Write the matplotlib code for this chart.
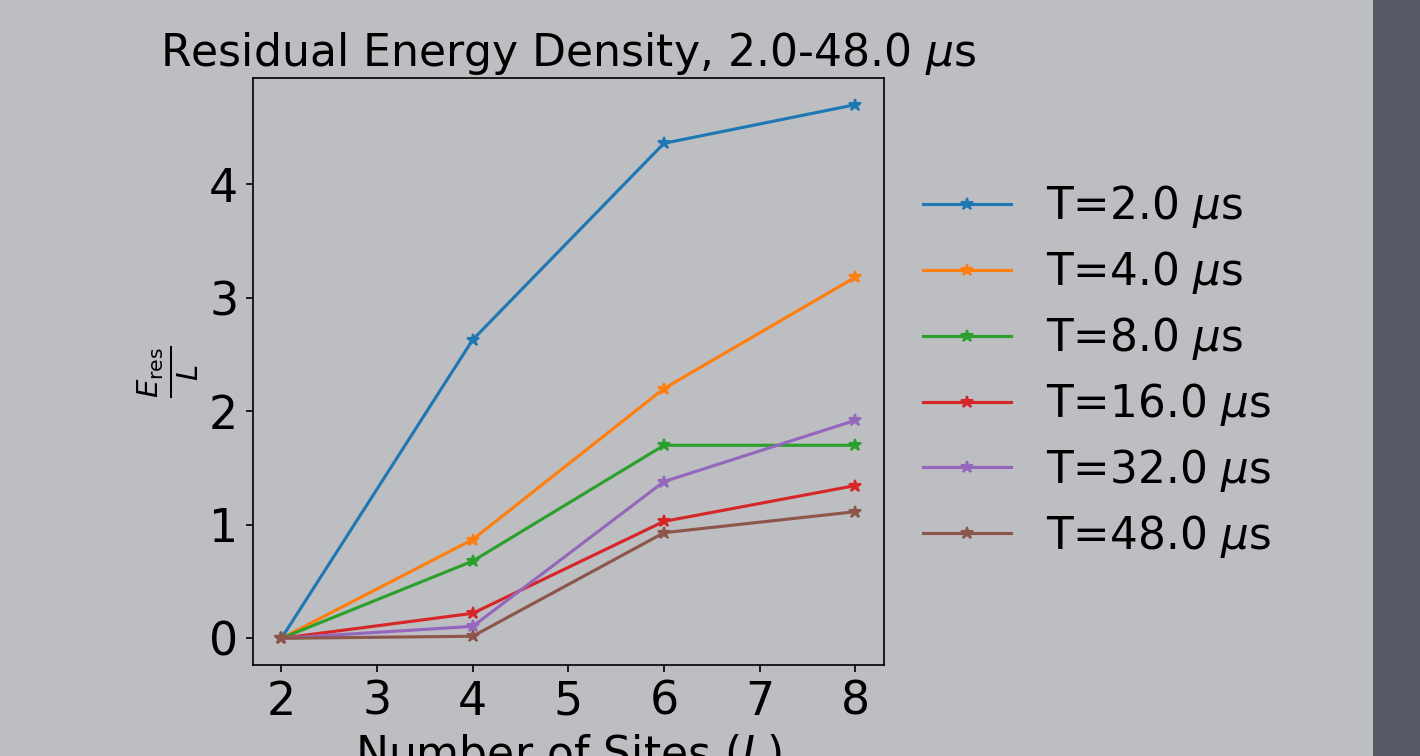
import matplotlib
matplotlib.use("Agg")
import matplotlib.pyplot as plt
from matplotlib.patches import Rectangle

sites = [2, 4, 6, 8]
durations = [2.0, 4.0, 8.0, 16.0, 32.0, 48.0]
e_T2 = [0.0, 2.63, 4.36, 4.70]
e_T4 = [0.0, 0.87, 2.20, 3.18]
e_T8 = [0.0, 0.68, 1.70, 1.70]
e_T16 = [0.0, 0.22, 1.03, 1.345]
e_T32 = [0.0, 0.105, 1.38, 1.92]
e_T48 = [0.0, 0.018, 0.93, 1.115]
series = [e_T2, e_T4, e_T8, e_T16, e_T32, e_T48]
xticks = [2, 3, 4, 5, 6, 7, 8]

bg = '#bdbec2'
fig = plt.figure(figsize=(1420 / 150, 756 / 150), dpi=150, facecolor=bg)
# dark strip on the right edge
fig.patches.append(Rectangle((0.9669, 0), 0.0331, 1, transform=fig.transFigure,
                             facecolor='#565a66', edgecolor='none', zorder=0))
ax = fig.add_axes([0.178, 0.1204, 0.4445, 0.7764])
ax.set_facecolor(bg)

for T, vals in zip(durations, series):
    ax.plot(sites, vals, marker='*', label='T=%.1f $\\mu$s' % T)

ax.set_title('Residual Energy Density, 2.0-48.0 $\\mu$s', fontsize=21.2)
ax.set_xlabel('Number of Sites ($L$)', fontsize=21.2)
ax.set_ylabel(r'$\frac{E_{\rm res}}{L}$', fontsize=20)
ax.tick_params(labelsize=22)
ax.set_xticks(xticks)
ax.set_yticks([0, 1, 2, 3, 4])
ax.legend(loc='center left', bbox_to_anchor=(1, 0.5), frameon=False,
          fontsize=21, labelspacing=0.43)

fig.savefig('out.png', dpi=150, facecolor=bg)
